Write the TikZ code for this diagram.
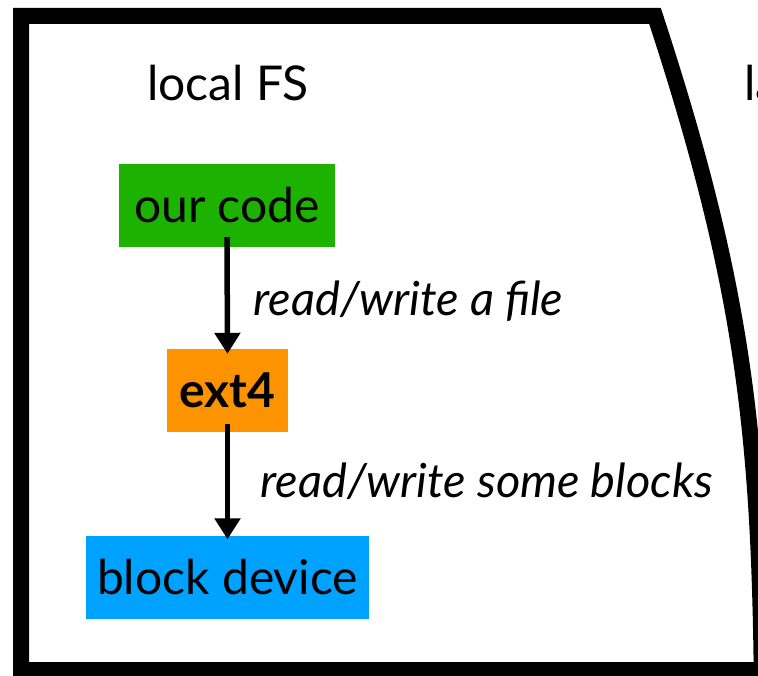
\documentclass[tikz,border=0pt]{standalone}
\usepackage{fontspec}
\setmainfont{Lato}
\usetikzlibrary{arrows.meta}
\definecolor{codegreen}{RGB}{29,177,0}
\definecolor{fsorange}{RGB}{254,147,0}
\definecolor{devblue}{RGB}{0,162,255}
\begin{document}
\begin{tikzpicture}
[x=1pt, y=-1pt, font=\fontsize{48}{56}\selectfont,
layer/.style={rectangle, inner sep=0pt, minimum height=83pt},
call/.style={-{Triangle[width=25pt,length=21pt]}, line width=5.5pt},
callnote/.style={anchor=base west, font=\fontsize{47}{54}\selectfont\itshape}]

\useasboundingbox (0,0) rectangle (758,676);
\draw[line width=16pt, miter limit=10] (790,670) -- (21,670) -- (21,16) -- (655,16) .. controls (745,290) and (760,440) .. (762,700);

\node[anchor=base] (local) at (228,101) {local FS};
\node[anchor=base west] (other) at (741,101) {la};

\node[layer, fill=codegreen, minimum width=216pt] (code) at (227,205.5) {our code};
\node[layer, fill=fsorange, minimum width=121pt] (ext) at (227.5,390.5) {\bfseries ext4};
\node[layer, fill=devblue, minimum width=283pt] (dev) at (227.5,577) {block device};

\draw[call] ([yshift=10pt]code.south) -- ([yshift=-5pt]ext.north);
\draw[call] ([yshift=8pt]ext.south) -- ([yshift=-4pt]dev.north);

\node[callnote] (filenote) at (250,316) {read/write a file};
\node[callnote] (blocknote) at (257,497) {read/write some blocks};
\end{tikzpicture}
\end{document}
